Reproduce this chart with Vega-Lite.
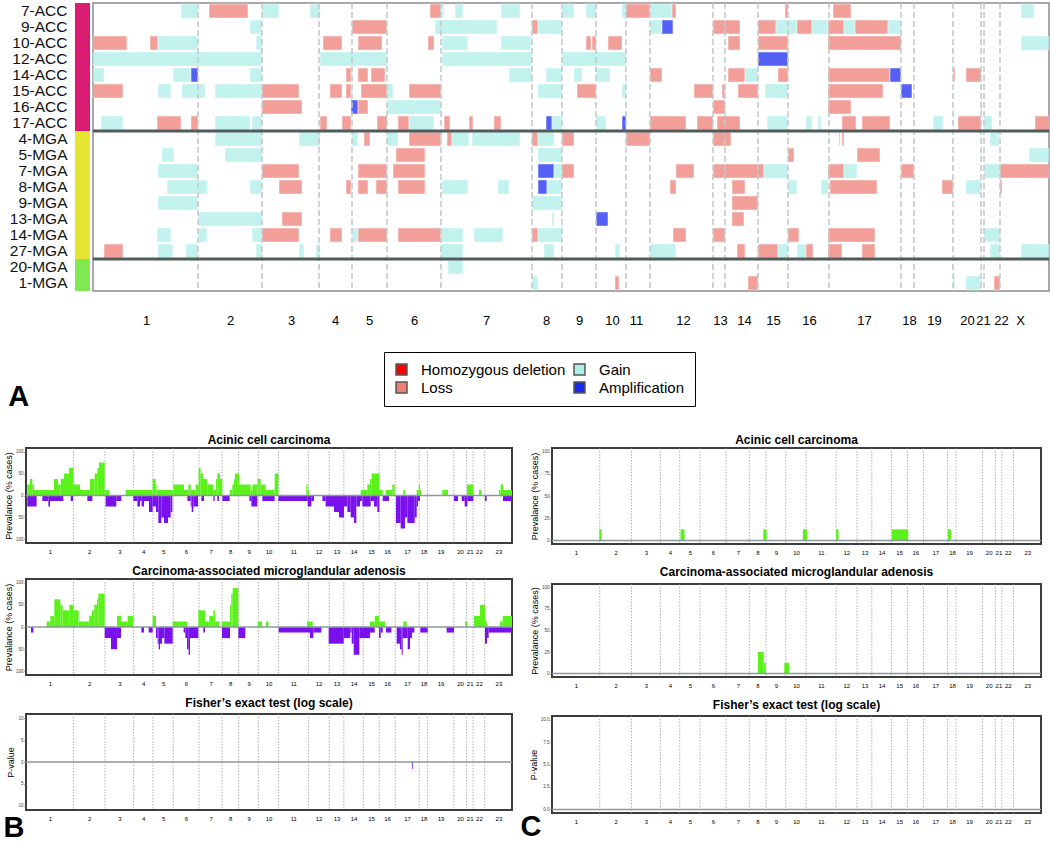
{
"$schema": "https://vega.github.io/schema/vega-lite/v6.json",
"padding": {"left": 2, "top": 1, "right": 2, "bottom": 0},
"background": "white",
"config": {
  "font": "Liberation Sans",
  "view": {"stroke": null},
  "axis": {"grid": false, "labelColor": "#000", "titleColor": "#000"},
  "title": {"font": "Liberation Sans", "color": "#000"}
},
"datasets": {
  "samples": [
    {"s": "7-ACC", "g": "ACC"}, {"s": "9-ACC", "g": "ACC"}, {"s": "10-ACC", "g": "ACC"}, {"s": "12-ACC", "g": "ACC"},
    {"s": "14-ACC", "g": "ACC"}, {"s": "15-ACC", "g": "ACC"}, {"s": "16-ACC", "g": "ACC"}, {"s": "17-ACC", "g": "ACC"},
    {"s": "4-MGA", "g": "MGA"}, {"s": "5-MGA", "g": "MGA"}, {"s": "7-MGA", "g": "MGA"}, {"s": "8-MGA", "g": "MGA"},
    {"s": "9-MGA", "g": "MGA"}, {"s": "13-MGA", "g": "MGA"}, {"s": "14-MGA", "g": "MGA"}, {"s": "27-MGA", "g": "MGA"},
    {"s": "20-MGA", "g": "MGA2"}, {"s": "1-MGA", "g": "MGA2"}
  ],
  "sep": [{"s": "17-ACC"}, {"s": "27-MGA"}],
  "hb": [{"p":105},{"p":169},{"p":226},{"p":259},{"p":294},{"p":348},{"p":439},{"p":469},{"p":503},{"p":533},{"p":557},{"p":620},{"p":632},{"p":665},{"p":695},{"p":736},{"p":808},{"p":821},{"p":860},{"p":888},{"p":891},{"p":907}],
  "cb": [{"p":97.7},{"p":162.5},{"p":221.5},{"p":261.2},{"p":302.9},{"p":355.9},{"p":403.4},{"p":437.6},{"p":478},{"p":519.6},{"p":581.1},{"p":623.9},{"p":654},{"p":694},{"p":726.7},{"p":759.7},{"p":808.9},{"p":826},{"p":880.3},{"p":906.6},{"p":920},{"p":943.9}],
  "zero": [{"z": 0}],
  "seg": [
    {"s":"7-ACC","a":88,"b":105,"t":"Gain"},{"s":"7-ACC","a":116,"b":155,"t":"Loss"},{"s":"7-ACC","a":169,"b":186,"t":"Gain"},{"s":"7-ACC","a":217,"b":227,"t":"Gain"},{"s":"7-ACC","a":337,"b":348,"t":"Loss"},{"s":"7-ACC","a":349,"b":351,"t":"Gain"},{"s":"7-ACC","a":362,"b":370,"t":"Gain"},{"s":"7-ACC","a":408,"b":427,"t":"Gain"},{"s":"7-ACC","a":469,"b":481,"t":"Gain"},{"s":"7-ACC","a":493,"b":503,"t":"Gain"},{"s":"7-ACC","a":529,"b":533,"t":"Gain"},{"s":"7-ACC","a":533,"b":557,"t":"Loss"},{"s":"7-ACC","a":557,"b":579,"t":"Gain"},{"s":"7-ACC","a":579,"b":583,"t":"Loss"},{"s":"7-ACC","a":692,"b":695,"t":"Loss"},{"s":"7-ACC","a":740,"b":758,"t":"Loss"},{"s":"7-ACC","a":928,"b":941,"t":"Gain"},
    {"s":"9-ACC","a":157,"b":169,"t":"Gain"},{"s":"9-ACC","a":259,"b":294,"t":"Loss"},{"s":"9-ACC","a":342,"b":404,"t":"Gain"},{"s":"9-ACC","a":439,"b":445,"t":"Loss"},{"s":"9-ACC","a":445,"b":469,"t":"Gain"},{"s":"9-ACC","a":557,"b":569,"t":"Gain"},{"s":"9-ACC","a":569,"b":580,"t":"Amplification"},{"s":"9-ACC","a":620,"b":647,"t":"Loss"},{"s":"9-ACC","a":665,"b":683,"t":"Loss"},{"s":"9-ACC","a":683,"b":704,"t":"Gain"},{"s":"9-ACC","a":704,"b":719,"t":"Loss"},{"s":"9-ACC","a":719,"b":735,"t":"Gain"},{"s":"9-ACC","a":735,"b":751,"t":"Loss"},{"s":"9-ACC","a":751,"b":762,"t":"Gain"},{"s":"9-ACC","a":762,"b":795,"t":"Loss"},{"s":"9-ACC","a":795,"b":808,"t":"Gain"},
    {"s":"10-ACC","a":0,"b":34,"t":"Loss"},{"s":"10-ACC","a":57,"b":65,"t":"Loss"},{"s":"10-ACC","a":65,"b":105,"t":"Gain"},{"s":"10-ACC","a":163,"b":169,"t":"Gain"},{"s":"10-ACC","a":230,"b":249,"t":"Loss"},{"s":"10-ACC","a":265,"b":289,"t":"Loss"},{"s":"10-ACC","a":335,"b":341,"t":"Loss"},{"s":"10-ACC","a":349,"b":375,"t":"Gain"},{"s":"10-ACC","a":408,"b":438,"t":"Gain"},{"s":"10-ACC","a":493,"b":498,"t":"Loss"},{"s":"10-ACC","a":499,"b":503,"t":"Loss"},{"s":"10-ACC","a":515,"b":529,"t":"Loss"},{"s":"10-ACC","a":635,"b":647,"t":"Loss"},{"s":"10-ACC","a":665,"b":695,"t":"Loss"},{"s":"10-ACC","a":735,"b":808,"t":"Loss"},{"s":"10-ACC","a":888,"b":889,"t":"Gain"},{"s":"10-ACC","a":928,"b":956,"t":"Gain"},
    {"s":"12-ACC","a":0,"b":169,"t":"Gain"},{"s":"12-ACC","a":227,"b":294,"t":"Gain"},{"s":"12-ACC","a":349,"b":439,"t":"Gain"},{"s":"12-ACC","a":469,"b":533,"t":"Gain"},{"s":"12-ACC","a":665,"b":695,"t":"Amplification"},
    {"s":"14-ACC","a":0,"b":11,"t":"Gain"},{"s":"14-ACC","a":80,"b":98,"t":"Gain"},{"s":"14-ACC","a":98,"b":105,"t":"Amplification"},{"s":"14-ACC","a":157,"b":169,"t":"Gain"},{"s":"14-ACC","a":253,"b":258,"t":"Loss"},{"s":"14-ACC","a":265,"b":275,"t":"Loss"},{"s":"14-ACC","a":278,"b":292,"t":"Loss"},{"s":"14-ACC","a":416,"b":439,"t":"Gain"},{"s":"14-ACC","a":453,"b":469,"t":"Gain"},{"s":"14-ACC","a":481,"b":489,"t":"Gain"},{"s":"14-ACC","a":503,"b":517,"t":"Gain"},{"s":"14-ACC","a":557,"b":569,"t":"Loss"},{"s":"14-ACC","a":635,"b":652,"t":"Loss"},{"s":"14-ACC","a":652,"b":665,"t":"Gain"},{"s":"14-ACC","a":685,"b":695,"t":"Loss"},{"s":"14-ACC","a":735,"b":797,"t":"Loss"},{"s":"14-ACC","a":797,"b":808,"t":"Amplification"},{"s":"14-ACC","a":860,"b":862,"t":"Loss"},{"s":"14-ACC","a":873,"b":888,"t":"Loss"},
    {"s":"15-ACC","a":0,"b":30,"t":"Loss"},{"s":"15-ACC","a":65,"b":78,"t":"Gain"},{"s":"15-ACC","a":89,"b":112,"t":"Gain"},{"s":"15-ACC","a":122,"b":169,"t":"Gain"},{"s":"15-ACC","a":169,"b":206,"t":"Loss"},{"s":"15-ACC","a":237,"b":249,"t":"Loss"},{"s":"15-ACC","a":253,"b":258,"t":"Loss"},{"s":"15-ACC","a":268,"b":294,"t":"Loss"},{"s":"15-ACC","a":294,"b":300,"t":"Gain"},{"s":"15-ACC","a":316,"b":348,"t":"Loss"},{"s":"15-ACC","a":445,"b":469,"t":"Gain"},{"s":"15-ACC","a":484,"b":503,"t":"Loss"},{"s":"15-ACC","a":529,"b":533,"t":"Gain"},{"s":"15-ACC","a":601,"b":620,"t":"Loss"},{"s":"15-ACC","a":629,"b":632,"t":"Loss"},{"s":"15-ACC","a":645,"b":665,"t":"Loss"},{"s":"15-ACC","a":672,"b":695,"t":"Gain"},{"s":"15-ACC","a":735,"b":790,"t":"Loss"},{"s":"15-ACC","a":808,"b":819,"t":"Amplification"},
    {"s":"16-ACC","a":169,"b":209,"t":"Loss"},{"s":"16-ACC","a":258,"b":265,"t":"Amplification"},{"s":"16-ACC","a":265,"b":275,"t":"Loss"},{"s":"16-ACC","a":294,"b":348,"t":"Gain"},{"s":"16-ACC","a":620,"b":632,"t":"Loss"},{"s":"16-ACC","a":735,"b":758,"t":"Loss"},{"s":"16-ACC","a":888,"b":889,"t":"Loss"},
    {"s":"17-ACC","a":8,"b":30,"t":"Gain"},{"s":"17-ACC","a":64,"b":88,"t":"Loss"},{"s":"17-ACC","a":98,"b":105,"t":"Loss"},{"s":"17-ACC","a":122,"b":157,"t":"Gain"},{"s":"17-ACC","a":159,"b":169,"t":"Gain"},{"s":"17-ACC","a":227,"b":234,"t":"Loss"},{"s":"17-ACC","a":249,"b":258,"t":"Loss"},{"s":"17-ACC","a":284,"b":294,"t":"Loss"},{"s":"17-ACC","a":305,"b":316,"t":"Loss"},{"s":"17-ACC","a":316,"b":341,"t":"Gain"},{"s":"17-ACC","a":351,"b":357,"t":"Loss"},{"s":"17-ACC","a":376,"b":380,"t":"Loss"},{"s":"17-ACC","a":401,"b":408,"t":"Loss"},{"s":"17-ACC","a":453,"b":459,"t":"Amplification"},{"s":"17-ACC","a":459,"b":469,"t":"Gain"},{"s":"17-ACC","a":503,"b":513,"t":"Gain"},{"s":"17-ACC","a":529,"b":533,"t":"Amplification"},{"s":"17-ACC","a":557,"b":593,"t":"Loss"},{"s":"17-ACC","a":604,"b":620,"t":"Loss"},{"s":"17-ACC","a":624,"b":647,"t":"Loss"},{"s":"17-ACC","a":674,"b":695,"t":"Gain"},{"s":"17-ACC","a":713,"b":719,"t":"Gain"},{"s":"17-ACC","a":725,"b":728,"t":"Gain"},{"s":"17-ACC","a":749,"b":763,"t":"Loss"},{"s":"17-ACC","a":769,"b":797,"t":"Loss"},{"s":"17-ACC","a":840,"b":850,"t":"Gain"},{"s":"17-ACC","a":865,"b":888,"t":"Loss"},{"s":"17-ACC","a":891,"b":899,"t":"Gain"},{"s":"17-ACC","a":942,"b":956,"t":"Loss"},
    {"s":"4-MGA","a":122,"b":169,"t":"Gain"},{"s":"4-MGA","a":206,"b":227,"t":"Gain"},{"s":"4-MGA","a":259,"b":265,"t":"Gain"},{"s":"4-MGA","a":271,"b":277,"t":"Loss"},{"s":"4-MGA","a":294,"b":305,"t":"Gain"},{"s":"4-MGA","a":316,"b":348,"t":"Loss"},{"s":"4-MGA","a":354,"b":359,"t":"Loss"},{"s":"4-MGA","a":359,"b":376,"t":"Gain"},{"s":"4-MGA","a":379,"b":427,"t":"Gain"},{"s":"4-MGA","a":439,"b":445,"t":"Loss"},{"s":"4-MGA","a":445,"b":461,"t":"Gain"},{"s":"4-MGA","a":469,"b":481,"t":"Loss"},{"s":"4-MGA","a":533,"b":557,"t":"Loss"},{"s":"4-MGA","a":620,"b":638,"t":"Loss"},{"s":"4-MGA","a":746,"b":747,"t":"Loss"},{"s":"4-MGA","a":749,"b":751,"t":"Loss"},{"s":"4-MGA","a":897,"b":906,"t":"Gain"},
    {"s":"5-MGA","a":69,"b":81,"t":"Gain"},{"s":"5-MGA","a":132,"b":169,"t":"Gain"},{"s":"5-MGA","a":303,"b":332,"t":"Loss"},{"s":"5-MGA","a":445,"b":469,"t":"Gain"},{"s":"5-MGA","a":695,"b":701,"t":"Loss"},{"s":"5-MGA","a":764,"b":787,"t":"Loss"},{"s":"5-MGA","a":936,"b":956,"t":"Gain"},
    {"s":"7-MGA","a":65,"b":105,"t":"Gain"},{"s":"7-MGA","a":169,"b":206,"t":"Loss"},{"s":"7-MGA","a":265,"b":294,"t":"Loss"},{"s":"7-MGA","a":300,"b":332,"t":"Loss"},{"s":"7-MGA","a":445,"b":461,"t":"Amplification"},{"s":"7-MGA","a":461,"b":469,"t":"Gain"},{"s":"7-MGA","a":469,"b":481,"t":"Loss"},{"s":"7-MGA","a":583,"b":601,"t":"Loss"},{"s":"7-MGA","a":620,"b":671,"t":"Loss"},{"s":"7-MGA","a":671,"b":695,"t":"Gain"},{"s":"7-MGA","a":735,"b":751,"t":"Loss"},{"s":"7-MGA","a":751,"b":764,"t":"Gain"},{"s":"7-MGA","a":808,"b":821,"t":"Loss"},{"s":"7-MGA","a":891,"b":907,"t":"Gain"},{"s":"7-MGA","a":907,"b":956,"t":"Loss"},
    {"s":"8-MGA","a":74,"b":114,"t":"Gain"},{"s":"8-MGA","a":157,"b":169,"t":"Gain"},{"s":"8-MGA","a":186,"b":209,"t":"Loss"},{"s":"8-MGA","a":253,"b":258,"t":"Loss"},{"s":"8-MGA","a":265,"b":275,"t":"Loss"},{"s":"8-MGA","a":283,"b":294,"t":"Loss"},{"s":"8-MGA","a":305,"b":332,"t":"Loss"},{"s":"8-MGA","a":349,"b":375,"t":"Gain"},{"s":"8-MGA","a":405,"b":416,"t":"Gain"},{"s":"8-MGA","a":445,"b":454,"t":"Amplification"},{"s":"8-MGA","a":454,"b":469,"t":"Gain"},{"s":"8-MGA","a":577,"b":583,"t":"Loss"},{"s":"8-MGA","a":639,"b":652,"t":"Loss"},{"s":"8-MGA","a":695,"b":704,"t":"Gain"},{"s":"8-MGA","a":728,"b":735,"t":"Gain"},{"s":"8-MGA","a":737,"b":784,"t":"Loss"},{"s":"8-MGA","a":849,"b":860,"t":"Loss"},{"s":"8-MGA","a":873,"b":888,"t":"Gain"},{"s":"8-MGA","a":907,"b":909,"t":"Loss"},
    {"s":"9-MGA","a":65,"b":105,"t":"Gain"},{"s":"9-MGA","a":439,"b":469,"t":"Gain"},{"s":"9-MGA","a":639,"b":665,"t":"Loss"},
    {"s":"13-MGA","a":105,"b":169,"t":"Gain"},{"s":"13-MGA","a":189,"b":209,"t":"Loss"},{"s":"13-MGA","a":459,"b":461,"t":"Gain"},{"s":"13-MGA","a":503,"b":515,"t":"Amplification"},{"s":"13-MGA","a":639,"b":651,"t":"Loss"},
    {"s":"14-MGA","a":64,"b":78,"t":"Gain"},{"s":"14-MGA","a":105,"b":114,"t":"Gain"},{"s":"14-MGA","a":159,"b":169,"t":"Gain"},{"s":"14-MGA","a":169,"b":206,"t":"Loss"},{"s":"14-MGA","a":237,"b":249,"t":"Loss"},{"s":"14-MGA","a":259,"b":265,"t":"Gain"},{"s":"14-MGA","a":265,"b":294,"t":"Loss"},{"s":"14-MGA","a":305,"b":348,"t":"Loss"},{"s":"14-MGA","a":348,"b":370,"t":"Gain"},{"s":"14-MGA","a":381,"b":410,"t":"Gain"},{"s":"14-MGA","a":439,"b":445,"t":"Loss"},{"s":"14-MGA","a":445,"b":469,"t":"Gain"},{"s":"14-MGA","a":580,"b":593,"t":"Loss"},{"s":"14-MGA","a":620,"b":632,"t":"Loss"},{"s":"14-MGA","a":695,"b":706,"t":"Loss"},{"s":"14-MGA","a":735,"b":782,"t":"Loss"},{"s":"14-MGA","a":891,"b":907,"t":"Gain"},
    {"s":"27-MGA","a":11,"b":30,"t":"Loss"},{"s":"27-MGA","a":65,"b":80,"t":"Gain"},{"s":"27-MGA","a":93,"b":105,"t":"Gain"},{"s":"27-MGA","a":163,"b":169,"t":"Gain"},{"s":"27-MGA","a":206,"b":211,"t":"Gain"},{"s":"27-MGA","a":223,"b":227,"t":"Gain"},{"s":"27-MGA","a":348,"b":370,"t":"Gain"},{"s":"27-MGA","a":451,"b":461,"t":"Gain"},{"s":"27-MGA","a":522,"b":527,"t":"Gain"},{"s":"27-MGA","a":557,"b":583,"t":"Gain"},{"s":"27-MGA","a":644,"b":652,"t":"Loss"},{"s":"27-MGA","a":665,"b":685,"t":"Loss"},{"s":"27-MGA","a":685,"b":695,"t":"Gain"},{"s":"27-MGA","a":704,"b":713,"t":"Gain"},{"s":"27-MGA","a":713,"b":720,"t":"Loss"},{"s":"27-MGA","a":735,"b":749,"t":"Loss"},{"s":"27-MGA","a":769,"b":782,"t":"Loss"},{"s":"27-MGA","a":897,"b":907,"t":"Gain"},{"s":"27-MGA","a":928,"b":956,"t":"Gain"},
    {"s":"20-MGA","a":355,"b":370,"t":"Gain"},
    {"s":"1-MGA","a":439,"b":445,"t":"Gain"},{"s":"1-MGA","a":522,"b":526,"t":"Loss"},{"s":"1-MGA","a":655,"b":665,"t":"Loss"},{"s":"1-MGA","a":860,"b":862,"t":"Gain"},{"s":"1-MGA","a":873,"b":888,"t":"Gain"},{"s":"1-MGA","a":901,"b":907,"t":"Loss"}
  ],
  "accB": [
    {"a":2.7,"b":8.2,"v":25},{"a":8.2,"b":13,"v":37.5},{"a":13,"b":16.5,"v":25},{"a":16.5,"b":57.6,"v":12.5},{"a":57.6,"b":65.8,"v":37.5},{"a":65.8,"b":71.3,"v":25},{"a":71.3,"b":78.2,"v":37.5},{"a":78.2,"b":88.5,"v":50},{"a":88.5,"b":97.4,"v":62.5},
    {"a":97.4,"b":111.1,"v":25},{"a":111.1,"b":131.7,"v":12.5},{"a":131.7,"b":141.3,"v":37.5},{"a":141.3,"b":146.8,"v":50},{"a":146.8,"b":150.2,"v":62.5},{"a":150.2,"b":161.9,"v":75},
    {"a":161.9,"b":171.5,"v":12.5},{"a":205.1,"b":260.6,"v":12.5},
    {"a":260.6,"b":266.8,"v":37.5},{"a":266.8,"b":268.9,"v":25},{"a":268.9,"b":303.2,"v":12.5},
    {"a":303.2,"b":325.1,"v":25},{"a":325.1,"b":334,"v":12.5},{"a":334,"b":338.8,"v":25},{"a":338.8,"b":349.1,"v":12.5},{"a":349.1,"b":355.3,"v":25},
    {"a":355.3,"b":359.4,"v":62.5},{"a":359.4,"b":364.2,"v":50},{"a":364.2,"b":373.1,"v":37.5},{"a":373.1,"b":385.5,"v":25},{"a":385.5,"b":391,"v":12.5},{"a":391,"b":393.7,"v":37.5},{"a":393.7,"b":399.2,"v":50},{"a":399.2,"b":404,"v":37.5},
    {"a":419.1,"b":424.6,"v":12.5},{"a":424.6,"b":428,"v":25},{"a":428,"b":430.1,"v":37.5},{"a":430.1,"b":438.3,"v":50},
    {"a":438.3,"b":462.3,"v":25},{"a":462.3,"b":465.7,"v":12.5},{"a":465.7,"b":476,"v":25},{"a":476,"b":478.1,"v":37.5},
    {"a":478.1,"b":482.9,"v":37.5},{"a":482.9,"b":493.2,"v":25},{"a":493.2,"b":511.7,"v":12.5},{"a":511.7,"b":519.2,"v":50},
    {"a":576.8,"b":579.6,"v":25},{"a":579.6,"b":583,"v":12.5},
    {"a":688.7,"b":702.4,"v":12.5},{"a":702.4,"b":707.9,"v":25},{"a":707.9,"b":711.3,"v":37.5},{"a":711.3,"b":727.1,"v":50},
    {"a":727.1,"b":734,"v":12.5},{"a":740.1,"b":753.8,"v":12.5},{"a":753.8,"b":758.6,"v":25},
    {"a":776.4,"b":780.6,"v":12.5},
    {"a":803.9,"b":808,"v":12.5},{"a":808,"b":810.7,"v":25},{"a":810.7,"b":813.5,"v":12.5},
    {"a":856.7,"b":868.3,"v":12.5},{"a":907.5,"b":920.5,"v":25},{"a":932.1,"b":937.6,"v":12.5},
    {"a":973.3,"b":976.7,"v":12.5},{"a":976.7,"b":981.5,"v":25},{"a":981.5,"b":1000,"v":12.5},
    {"a":2.7,"b":21.9,"v":-25},{"a":33.6,"b":46,"v":-12.5},{"a":46,"b":49.4,"v":-25},{"a":49.4,"b":76.8,"v":-12.5},{"a":91.9,"b":96.7,"v":-12.5},
    {"a":126.2,"b":136.5,"v":-12.5},
    {"a":163.9,"b":185.9,"v":-25},{"a":185.9,"b":196.2,"v":-12.5},
    {"a":220.9,"b":229.1,"v":-12.5},{"a":229.1,"b":234.6,"v":-25},{"a":234.6,"b":238,"v":-12.5},{"a":238,"b":242.8,"v":-25},{"a":242.8,"b":253.1,"v":-12.5},{"a":253.1,"b":260.6,"v":-37.5},
    {"a":260.6,"b":267.5,"v":-25},{"a":267.5,"b":272.3,"v":-37.5},{"a":272.3,"b":278.5,"v":-62.5},{"a":278.5,"b":284,"v":-50},{"a":284,"b":292.2,"v":-62.5},{"a":292.2,"b":297.7,"v":-50},{"a":297.7,"b":301.1,"v":-37.5},
    {"a":332,"b":338.8,"v":-12.5},{"a":338.8,"b":340.9,"v":-25},{"a":340.9,"b":344.3,"v":-37.5},{"a":344.3,"b":353.9,"v":-25},
    {"a":360.8,"b":366.3,"v":-12.5},{"a":385.5,"b":388.2,"v":-12.5},{"a":393.7,"b":397.1,"v":-12.5},
    {"a":404,"b":419.1,"v":-12.5},
    {"a":459.6,"b":463.7,"v":-12.5},{"a":463.7,"b":476,"v":-25},
    {"a":486.3,"b":511.7,"v":-12.5},
    {"a":519.2,"b":579.6,"v":-12.5},{"a":579.6,"b":587.1,"v":-25},{"a":587.1,"b":592.6,"v":-12.5},
    {"a":609.8,"b":616.6,"v":-12.5},{"a":616.6,"b":633.8,"v":-25},{"a":633.8,"b":644,"v":-37.5},{"a":644,"b":654.3,"v":-50},{"a":654.3,"b":661.2,"v":-25},{"a":661.2,"b":668.1,"v":-37.5},{"a":668.1,"b":675,"v":-50},{"a":675,"b":679.7,"v":-62.5},{"a":679.7,"b":687.3,"v":-25},{"a":687.3,"b":692.1,"v":-12.5},
    {"a":692.1,"b":709.2,"v":-25},{"a":709.2,"b":716.1,"v":-12.5},{"a":716.1,"b":722.9,"v":-25},{"a":722.9,"b":727.1,"v":-37.5},
    {"a":734,"b":746.9,"v":-12.5},
    {"a":761.3,"b":770.9,"v":-62.5},{"a":770.9,"b":779.9,"v":-75},{"a":779.9,"b":784.7,"v":-50},{"a":784.7,"b":799.8,"v":-62.5},{"a":799.8,"b":803.9,"v":-50},{"a":803.9,"b":806.6,"v":-25},{"a":806.6,"b":810.7,"v":-12.5},
    {"a":880.7,"b":888.9,"v":-12.5},{"a":896.5,"b":902.6,"v":-12.5},{"a":902.6,"b":908.1,"v":-25},{"a":908.1,"b":920.5,"v":-12.5},
    {"a":944.5,"b":947.9,"v":-12.5},{"a":981.5,"b":1000,"v":-12.5}
  ],
  "mgaB": [
    {"a":42.5,"b":50.1,"v":12.5},{"a":50.1,"b":58.3,"v":25},{"a":58.3,"b":70.6,"v":62.5},{"a":70.6,"b":75.4,"v":50},{"a":75.4,"b":89.2,"v":37.5},{"a":89.2,"b":97.4,"v":50},{"a":97.4,"b":108.4,"v":37.5},{"a":108.4,"b":130.3,"v":12.5},{"a":130.3,"b":135.8,"v":25},{"a":135.8,"b":140.6,"v":37.5},{"a":140.6,"b":146.1,"v":50},{"a":146.1,"b":148.8,"v":62.5},{"a":148.8,"b":161.9,"v":75},
    {"a":187.3,"b":195.5,"v":25},{"a":195.5,"b":209.2,"v":12.5},{"a":209.2,"b":220.2,"v":25},
    {"a":260.6,"b":267.5,"v":25},
    {"a":301.8,"b":331.3,"v":12.5},
    {"a":354.6,"b":368.3,"v":37.5},{"a":368.3,"b":377.2,"v":12.5},{"a":377.2,"b":385.5,"v":25},{"a":385.5,"b":388.9,"v":37.5},{"a":388.9,"b":397.8,"v":12.5},
    {"a":403.3,"b":419.8,"v":12.5},{"a":419.8,"b":422.5,"v":50},{"a":422.5,"b":425.3,"v":75},{"a":425.3,"b":436.9,"v":87.5},
    {"a":476.7,"b":485.6,"v":12.5},{"a":493.8,"b":498.7,"v":12.5},
    {"a":578.2,"b":589.9,"v":12.5},
    {"a":707.9,"b":717.5,"v":12.5},{"a":717.5,"b":726.4,"v":25},{"a":726.4,"b":739.4,"v":12.5},
    {"a":776.4,"b":783.3,"v":12.5},
    {"a":903.3,"b":908.1,"v":12.5},
    {"a":921.9,"b":934.2,"v":25},{"a":934.2,"b":944.5,"v":50},{"a":944.5,"b":948.6,"v":12.5},
    {"a":975.4,"b":980.9,"v":12.5},{"a":980.9,"b":1000,"v":25},
    {"a":10.3,"b":15.1,"v":-12.5},
    {"a":161.9,"b":174.9,"v":-25},{"a":174.9,"b":187.3,"v":-50},{"a":187.3,"b":195.5,"v":-25},
    {"a":237.3,"b":242.8,"v":-12.5},{"a":252.4,"b":260.6,"v":-12.5},
    {"a":267.5,"b":270.9,"v":-25},{"a":270.9,"b":273,"v":-37.5},{"a":273,"b":275.7,"v":-50},{"a":275.7,"b":279.9,"v":-37.5},{"a":279.9,"b":284.7,"v":-25},{"a":284.7,"b":301.8,"v":-37.5},
    {"a":324.4,"b":327.9,"v":-12.5},{"a":327.9,"b":331.3,"v":-25},{"a":331.3,"b":334.7,"v":-50},{"a":334.7,"b":337.5,"v":-62.5},{"a":337.5,"b":354.6,"v":-25},
    {"a":364.9,"b":368.3,"v":-12.5},
    {"a":403.3,"b":419.8,"v":-25},
    {"a":436.9,"b":451.3,"v":-25},
    {"a":519.9,"b":584.4,"v":-12.5},{"a":584.4,"b":591.3,"v":-25},{"a":591.3,"b":607.7,"v":-12.5},
    {"a":622.8,"b":653.7,"v":-37.5},{"a":653.7,"b":667.4,"v":-25},{"a":667.4,"b":670.1,"v":-12.5},{"a":670.1,"b":674.3,"v":-37.5},{"a":674.3,"b":685.9,"v":-62.5},{"a":685.9,"b":707.9,"v":-25},{"a":707.9,"b":717.5,"v":-12.5},
    {"a":726.4,"b":729.8,"v":-25},{"a":729.8,"b":733.9,"v":-12.5},{"a":740.8,"b":751.8,"v":-12.5},
    {"a":762.7,"b":769.6,"v":-37.5},{"a":769.6,"b":773,"v":-50},{"a":773,"b":775.1,"v":-62.5},{"a":775.1,"b":785.4,"v":-25},{"a":785.4,"b":790.2,"v":-50},{"a":790.2,"b":794.3,"v":-25},{"a":794.3,"b":799.1,"v":-12.5},
    {"a":811.4,"b":826.5,"v":-12.5},
    {"a":865.6,"b":880.7,"v":-12.5},
    {"a":944.5,"b":948.6,"v":-37.5},{"a":948.6,"b":952,"v":-25},{"a":952,"b":1000,"v":-12.5}
  ],
  "fishB": [{"a":794,"b":796.5,"v":-1.6}],
  "accC": [
    {"a":96.7,"b":101.6,"v":12.5},{"a":263,"b":271,"v":12.5},{"a":432,"b":439,"v":12.5},{"a":513,"b":521.5,"v":12.5},{"a":581,"b":586,"v":12.5},{"a":695,"b":728.6,"v":12.5},{"a":810,"b":816,"v":12.5}
  ],
  "mgaC": [
    {"a":421,"b":433,"v":25},{"a":433,"b":437,"v":12.5},{"a":475,"b":485,"v":12.5}
  ]
},
"spacing": 20,
"resolve": {"scale": {"x": "independent", "y": "independent", "color": "independent"}, "legend": {"color": "independent"}},
"vconcat": [
  {
    "spacing": 8,
    "resolve": {"scale": {"x": "independent", "y": "independent", "color": "independent"}, "legend": {"color": "independent"}},
    "hconcat": [
      {
        "width": 1, "height": 288,
        "data": {"name": "samples"},
        "title": {"text": "A", "orient": "bottom", "anchor": "start", "frame": "bounds", "fontSize": 29, "fontWeight": "bold", "baseline": "alphabetic", "offset": 115, "dx": -1},
        "mark": {"type": "rect", "opacity": 0},
        "encoding": {
          "y": {"field": "s", "type": "nominal",
                "scale": {"domain": ["7-ACC","9-ACC","10-ACC","12-ACC","14-ACC","15-ACC","16-ACC","17-ACC","4-MGA","5-MGA","7-MGA","8-MGA","9-MGA","13-MGA","14-MGA","27-MGA","20-MGA","1-MGA"], "paddingInner": 0, "paddingOuter": 0},
                "axis": {"orient": "right", "title": null, "ticks": false, "tickSize": 0, "domain": false, "labelFontSize": 15.5, "labelPadding": 40, "labelAlign": "right", "labelColor": "#111"}}
        }
      },
      {
        "spacing": 0,
        "resolve": {"scale": {"x": "independent", "y": "independent", "color": "independent"}, "legend": {"color": "independent"}},
        "hconcat": [
          {
            "width": 15, "height": 288,
            "data": {"name": "samples"},
            "mark": {"type": "rect"},
            "encoding": {
              "y": {"field": "s", "type": "nominal",
                    "scale": {"domain": ["7-ACC","9-ACC","10-ACC","12-ACC","14-ACC","15-ACC","16-ACC","17-ACC","4-MGA","5-MGA","7-MGA","8-MGA","9-MGA","13-MGA","14-MGA","27-MGA","20-MGA","1-MGA"], "paddingInner": 0, "paddingOuter": 0},
                    "axis": null},
              "color": {"field": "g", "type": "nominal", "scale": {"domain": ["ACC","MGA","MGA2"], "range": ["#DA1B72","#E6E632","#80E850"]}, "legend": null}
            }
          },
          {
            "width": 956, "height": 288,
            "view": {"stroke": "#8c8c8c", "strokeWidth": 1.5},
            "layer": [
              {
                "data": {"name": "seg"},
                "mark": {"type": "rect", "opacity": 0.75, "stroke": "white", "strokeWidth": 0.5},
                "encoding": {
                  "x": {"field": "a", "type": "quantitative", "scale": {"domain": [0, 956], "nice": false, "zero": false},
                        "axis": {"values": [53,137,198,242,276,321,393,453,486,519,543,590,627,651,680,716,771,816,841,874,890,908,927],
                                 "labelExpr": "['1','2','3','4','5','6','7','8','9','10','11','12','13','14','15','16','17','18','19','20','21','22','X'][indexof([53,137,198,242,276,321,393,453,486,519,543,590,627,651,680,716,771,816,841,874,890,908,927], datum.value)]",
                                 "ticks": false, "domain": false, "labelFontSize": 13, "labelPadding": 23, "labelOverlap": false, "labelBound": false, "labelFlush": false, "title": null}},
                  "x2": {"field": "b"},
                  "y": {"field": "s", "type": "nominal",
                        "scale": {"domain": ["7-ACC","9-ACC","10-ACC","12-ACC","14-ACC","15-ACC","16-ACC","17-ACC","4-MGA","5-MGA","7-MGA","8-MGA","9-MGA","13-MGA","14-MGA","27-MGA","20-MGA","1-MGA"], "paddingInner": 0.12, "paddingOuter": 0.06},
                        "axis": null},
                  "color": {"field": "t", "type": "nominal",
                            "scale": {"domain": ["Homozygous deletion","Loss","Gain","Amplification"], "range": ["#FF0000","#EE8078","#AEEEE9","#1A2BF0"]},
                            "legend": {"title": null, "orient": "none", "legendX": 291, "legendY": 349, "columns": 2, "strokeColor": "#000", "padding": 10,
                                       "symbolType": "square", "symbolSize": 120, "symbolStrokeColor": "#555", "symbolStrokeWidth": 1.5, "symbolOpacity": 1,
                                       "labelFontSize": 15, "labelOffset": 12, "columnPadding": 5, "rowPadding": 1, "labelColor": "#000", "labelLimit": 300}}
                }
              },
              {
                "data": {"name": "hb"},
                "mark": {"type": "rule", "color": "#c4cbcb", "strokeWidth": 1.6, "strokeDash": [6, 3]},
                "encoding": {"x": {"field": "p", "type": "quantitative",
                        "axis": {"values": [53,137,198,242,276,321,393,453,486,519,543,590,627,651,680,716,771,816,841,874,890,908,927],
                                 "labelExpr": "['1','2','3','4','5','6','7','8','9','10','11','12','13','14','15','16','17','18','19','20','21','22','X'][indexof([53,137,198,242,276,321,393,453,486,519,543,590,627,651,680,716,771,816,841,874,890,908,927], datum.value)]",
                                 "ticks": false, "domain": false, "labelFontSize": 13, "labelPadding": 23, "labelOverlap": false, "labelBound": false, "labelFlush": false, "title": null}}}
              },
              {
                "data": {"name": "sep"},
                "mark": {"type": "rule", "color": "#505c5c", "strokeWidth": 3},
                "encoding": {"y": {"field": "s", "type": "nominal", "bandPosition": 1.068, "axis": null}}
              }
            ]
          }
        ]
      }
    ]
  },
  {
    "spacing": 5,
    "resolve": {"scale": {"x": "independent", "y": "independent", "color": "independent"}},
    "hconcat": [
      {
        "spacing": 8,
        "resolve": {"scale": {"x": "independent", "y": "independent"}},
        "vconcat": [
          {
            "width": 486, "height": 95,
            "title": {"text": "Acinic cell carcinoma", "fontSize": 12, "fontWeight": "bold", "offset": 1},
            "view": {"stroke": "#3c3c3c", "strokeWidth": 2},
            "layer": [
              {"data": {"name": "cb"}, "mark": {"type": "rule", "color": "#9a9a9a", "strokeWidth": 0.8, "strokeDash": [1.5, 1.5]},
               "encoding": {"x": {"field": "p", "type": "quantitative", "scale": {"domain": [0, 1000], "nice": false, "zero": false},
                 "axis": {"values": [49,130,192,241,282,329,380,420,458,499,550,602,639,674,710,743,784,818,853,893,913,932,972], "labelExpr": "'' + (indexof([49,130,192,241,282,329,380,420,458,499,550,602,639,674,710,743,784,818,853,893,913,932,972], datum.value) + 1)", "ticks": false, "domain": false, "labelFontSize": 6, "labelPadding": 5, "title": null, "labelOverlap": false, "labelBound": false, "labelFlush": false}}}},
              {"data": {"name": "accB"}, "mark": {"type": "rect"},
               "encoding": {"x": {"field": "a", "type": "quantitative",
                 "axis": {"values": [49,130,192,241,282,329,380,420,458,499,550,602,639,674,710,743,784,818,853,893,913,932,972], "labelExpr": "'' + (indexof([49,130,192,241,282,329,380,420,458,499,550,602,639,674,710,743,784,818,853,893,913,932,972], datum.value) + 1)", "ticks": false, "domain": false, "labelFontSize": 6, "labelPadding": 5, "title": null, "labelOverlap": false, "labelBound": false, "labelFlush": false}},
                 "x2": {"field": "b"},
                 "y": {"field": "v", "type": "quantitative", "scale": {"domain": [-108, 108], "nice": false, "zero": false},
                   "axis": {"values": [-100,-50,0,50,100], "labelExpr": "'' + abs(datum.value)", "title": "Prevalance (% cases)", "titleFontSize": 9, "titleFontWeight": "normal", "titlePadding": 2, "labelFontSize": 4.5, "tickSize": 2, "tickColor": "#555", "labelPadding": 1, "domain": false, "labelColor": "#444", "labelOverlap": false}},
                 "y2": {"datum": 0},
                 "color": {"condition": {"test": "datum.v > 0", "value": "#5AF21A"}, "value": "#7A10EE"}}},
              {"data": {"name": "zero"}, "mark": {"type": "rule", "color": "#8a9a9a", "strokeWidth": 1.5},
               "encoding": {"y": {"field": "z", "type": "quantitative",
                   "axis": {"values": [-100,-50,0,50,100], "labelExpr": "'' + abs(datum.value)", "title": "Prevalance (% cases)", "titleFontSize": 9, "titleFontWeight": "normal", "titlePadding": 2, "labelFontSize": 4.5, "tickSize": 2, "tickColor": "#555", "labelPadding": 1, "domain": false, "labelColor": "#444", "labelOverlap": false}}}}
            ]
          },
          {
            "width": 486, "height": 96,
            "title": {"text": "Carcinoma-associated microglandular adenosis", "fontSize": 12, "fontWeight": "bold", "offset": 1},
            "view": {"stroke": "#3c3c3c", "strokeWidth": 2},
            "layer": [
              {"data": {"name": "cb"}, "mark": {"type": "rule", "color": "#9a9a9a", "strokeWidth": 0.8, "strokeDash": [1.5, 1.5]},
               "encoding": {"x": {"field": "p", "type": "quantitative", "scale": {"domain": [0, 1000], "nice": false, "zero": false},
                 "axis": {"values": [49,130,192,241,282,329,380,420,458,499,550,602,639,674,710,743,784,818,853,893,913,932,972], "labelExpr": "'' + (indexof([49,130,192,241,282,329,380,420,458,499,550,602,639,674,710,743,784,818,853,893,913,932,972], datum.value) + 1)", "ticks": false, "domain": false, "labelFontSize": 6, "labelPadding": 5, "title": null, "labelOverlap": false, "labelBound": false, "labelFlush": false}}}},
              {"data": {"name": "mgaB"}, "mark": {"type": "rect"},
               "encoding": {"x": {"field": "a", "type": "quantitative",
                 "axis": {"values": [49,130,192,241,282,329,380,420,458,499,550,602,639,674,710,743,784,818,853,893,913,932,972], "labelExpr": "'' + (indexof([49,130,192,241,282,329,380,420,458,499,550,602,639,674,710,743,784,818,853,893,913,932,972], datum.value) + 1)", "ticks": false, "domain": false, "labelFontSize": 6, "labelPadding": 5, "title": null, "labelOverlap": false, "labelBound": false, "labelFlush": false}},
                 "x2": {"field": "b"},
                 "y": {"field": "v", "type": "quantitative", "scale": {"domain": [-108, 108], "nice": false, "zero": false},
                   "axis": {"values": [-100,-50,0,50,100], "labelExpr": "'' + abs(datum.value)", "title": "Prevalance (% cases)", "titleFontSize": 9, "titleFontWeight": "normal", "titlePadding": 2, "labelFontSize": 4.5, "tickSize": 2, "tickColor": "#555", "labelPadding": 1, "domain": false, "labelColor": "#444", "labelOverlap": false}},
                 "y2": {"datum": 0},
                 "color": {"condition": {"test": "datum.v > 0", "value": "#5AF21A"}, "value": "#7A10EE"}}},
              {"data": {"name": "zero"}, "mark": {"type": "rule", "color": "#8a9a9a", "strokeWidth": 1.5},
               "encoding": {"y": {"field": "z", "type": "quantitative",
                   "axis": {"values": [-100,-50,0,50,100], "labelExpr": "'' + abs(datum.value)", "title": "Prevalance (% cases)", "titleFontSize": 9, "titleFontWeight": "normal", "titlePadding": 2, "labelFontSize": 4.5, "tickSize": 2, "tickColor": "#555", "labelPadding": 1, "domain": false, "labelColor": "#444", "labelOverlap": false}}}}
            ]
          },
          {
            "width": 486, "height": 96,
            "title": {"text": "Fisher’s exact test (log scale)", "fontSize": 12, "fontWeight": "bold", "offset": 4},
            "view": {"stroke": "#3c3c3c", "strokeWidth": 2},
            "layer": [
              {"data": {"name": "cb"}, "mark": {"type": "rule", "color": "#9a9a9a", "strokeWidth": 0.8, "strokeDash": [1.5, 1.5]},
               "encoding": {"x": {"field": "p", "type": "quantitative", "scale": {"domain": [0, 1000], "nice": false, "zero": false},
                 "axis": {"values": [49,130,192,241,282,329,380,420,458,499,550,602,639,674,710,743,784,818,853,893,913,932,972], "labelExpr": "'' + (indexof([49,130,192,241,282,329,380,420,458,499,550,602,639,674,710,743,784,818,853,893,913,932,972], datum.value) + 1)", "ticks": false, "domain": false, "labelFontSize": 6, "labelPadding": 5, "labelOverlap": false, "labelBound": false, "labelFlush": false,
                   "title": "B", "titleFontSize": 29, "titleFontWeight": "bold", "titleAlign": "left", "titleBaseline": "alphabetic", "titleX": -23, "titleY": 26}}}},
              {"data": {"name": "fishB"}, "mark": {"type": "rect"},
               "encoding": {"x": {"field": "a", "type": "quantitative",
                 "axis": {"values": [49,130,192,241,282,329,380,420,458,499,550,602,639,674,710,743,784,818,853,893,913,932,972], "labelExpr": "'' + (indexof([49,130,192,241,282,329,380,420,458,499,550,602,639,674,710,743,784,818,853,893,913,932,972], datum.value) + 1)", "ticks": false, "domain": false, "labelFontSize": 6, "labelPadding": 5, "labelOverlap": false, "labelBound": false, "labelFlush": false,
                   "title": "B", "titleFontSize": 29, "titleFontWeight": "bold", "titleAlign": "left", "titleBaseline": "alphabetic", "titleX": -23, "titleY": 26}},
                 "x2": {"field": "b"},
                 "y": {"field": "v", "type": "quantitative", "scale": {"domain": [-11, 11], "nice": false, "zero": false},
                   "axis": {"values": [-10,-5,0,5,10], "labelExpr": "'' + abs(datum.value)", "title": "P-value", "titleFontSize": 9, "titleFontWeight": "normal", "titlePadding": 2, "labelFontSize": 4.5, "tickSize": 2, "tickColor": "#555", "labelPadding": 1, "domain": false, "labelColor": "#444", "labelOverlap": false}},
                 "y2": {"datum": 0},
                 "color": {"value": "#A050F0"}}},
              {"data": {"name": "zero"}, "mark": {"type": "rule", "color": "#8a9a9a", "strokeWidth": 1.5},
               "encoding": {"y": {"field": "z", "type": "quantitative",
                   "axis": {"values": [-10,-5,0,5,10], "labelExpr": "'' + abs(datum.value)", "title": "P-value", "titleFontSize": 9, "titleFontWeight": "normal", "titlePadding": 2, "labelFontSize": 4.5, "tickSize": 2, "tickColor": "#555", "labelPadding": 1, "domain": false, "labelColor": "#444", "labelOverlap": false}}}}
            ]
          }
        ]
      },
      {
        "spacing": 8,
        "resolve": {"scale": {"x": "independent", "y": "independent"}},
        "vconcat": [
          {
            "width": 489, "height": 96,
            "title": {"text": "Acinic cell carcinoma", "fontSize": 12, "fontWeight": "bold", "offset": 1},
            "view": {"stroke": "#3c3c3c", "strokeWidth": 2},
            "layer": [
              {"data": {"name": "cb"}, "mark": {"type": "rule", "color": "#9a9a9a", "strokeWidth": 0.8, "strokeDash": [1.5, 1.5]},
               "encoding": {"x": {"field": "p", "type": "quantitative", "scale": {"domain": [0, 1000], "nice": false, "zero": false},
                 "axis": {"values": [49,130,192,241,282,329,380,420,458,499,550,602,639,674,710,743,784,818,853,893,913,932,972], "labelExpr": "'' + (indexof([49,130,192,241,282,329,380,420,458,499,550,602,639,674,710,743,784,818,853,893,913,932,972], datum.value) + 1)", "ticks": false, "domain": false, "labelFontSize": 6, "labelPadding": 5, "title": null, "labelOverlap": false, "labelBound": false, "labelFlush": false}}}},
              {"data": {"name": "accC"}, "mark": {"type": "rect"},
               "encoding": {"x": {"field": "a", "type": "quantitative",
                 "axis": {"values": [49,130,192,241,282,329,380,420,458,499,550,602,639,674,710,743,784,818,853,893,913,932,972], "labelExpr": "'' + (indexof([49,130,192,241,282,329,380,420,458,499,550,602,639,674,710,743,784,818,853,893,913,932,972], datum.value) + 1)", "ticks": false, "domain": false, "labelFontSize": 6, "labelPadding": 5, "title": null, "labelOverlap": false, "labelBound": false, "labelFlush": false}},
                 "x2": {"field": "b"},
                 "y": {"field": "v", "type": "quantitative", "scale": {"domain": [-4, 104], "nice": false, "zero": false},
                   "axis": {"values": [0,25,50,75,100], "title": "Prevalance (% cases)", "titleFontSize": 9, "titleFontWeight": "normal", "titlePadding": 2, "labelFontSize": 4.5, "tickSize": 2, "tickColor": "#555", "labelPadding": 1, "domain": false, "labelColor": "#444", "labelOverlap": false}},
                 "y2": {"datum": 0},
                 "color": {"value": "#5AF21A"}}},
              {"data": {"name": "zero"}, "mark": {"type": "rule", "color": "#8a9a9a", "strokeWidth": 1.5},
               "encoding": {"y": {"field": "z", "type": "quantitative",
                   "axis": {"values": [0,25,50,75,100], "title": "Prevalance (% cases)", "titleFontSize": 9, "titleFontWeight": "normal", "titlePadding": 2, "labelFontSize": 4.5, "tickSize": 2, "tickColor": "#555", "labelPadding": 1, "domain": false, "labelColor": "#444", "labelOverlap": false}}}}
            ]
          },
          {
            "width": 489, "height": 93,
            "title": {"text": "Carcinoma-associated microglandular adenosis", "fontSize": 12, "fontWeight": "bold", "offset": 5},
            "view": {"stroke": "#3c3c3c", "strokeWidth": 2},
            "layer": [
              {"data": {"name": "cb"}, "mark": {"type": "rule", "color": "#9a9a9a", "strokeWidth": 0.8, "strokeDash": [1.5, 1.5]},
               "encoding": {"x": {"field": "p", "type": "quantitative", "scale": {"domain": [0, 1000], "nice": false, "zero": false},
                 "axis": {"values": [49,130,192,241,282,329,380,420,458,499,550,602,639,674,710,743,784,818,853,893,913,932,972], "labelExpr": "'' + (indexof([49,130,192,241,282,329,380,420,458,499,550,602,639,674,710,743,784,818,853,893,913,932,972], datum.value) + 1)", "ticks": false, "domain": false, "labelFontSize": 6, "labelPadding": 5, "title": null, "labelOverlap": false, "labelBound": false, "labelFlush": false}}}},
              {"data": {"name": "mgaC"}, "mark": {"type": "rect"},
               "encoding": {"x": {"field": "a", "type": "quantitative",
                 "axis": {"values": [49,130,192,241,282,329,380,420,458,499,550,602,639,674,710,743,784,818,853,893,913,932,972], "labelExpr": "'' + (indexof([49,130,192,241,282,329,380,420,458,499,550,602,639,674,710,743,784,818,853,893,913,932,972], datum.value) + 1)", "ticks": false, "domain": false, "labelFontSize": 6, "labelPadding": 5, "title": null, "labelOverlap": false, "labelBound": false, "labelFlush": false}},
                 "x2": {"field": "b"},
                 "y": {"field": "v", "type": "quantitative", "scale": {"domain": [-4, 104], "nice": false, "zero": false},
                   "axis": {"values": [0,25,50,75,100], "title": "Prevalance (% cases)", "titleFontSize": 9, "titleFontWeight": "normal", "titlePadding": 2, "labelFontSize": 4.5, "tickSize": 2, "tickColor": "#555", "labelPadding": 1, "domain": false, "labelColor": "#444", "labelOverlap": false}},
                 "y2": {"datum": 0},
                 "color": {"value": "#5AF21A"}}},
              {"data": {"name": "zero"}, "mark": {"type": "rule", "color": "#8a9a9a", "strokeWidth": 1.5},
               "encoding": {"y": {"field": "z", "type": "quantitative",
                   "axis": {"values": [0,25,50,75,100], "title": "Prevalance (% cases)", "titleFontSize": 9, "titleFontWeight": "normal", "titlePadding": 2, "labelFontSize": 4.5, "tickSize": 2, "tickColor": "#555", "labelPadding": 1, "domain": false, "labelColor": "#444", "labelOverlap": false}}}}
            ]
          },
          {
            "width": 489, "height": 97,
            "title": {"text": "Fisher’s exact test (log scale)", "fontSize": 12, "fontWeight": "bold", "offset": 4},
            "view": {"stroke": "#3c3c3c", "strokeWidth": 2},
            "layer": [
              {"data": {"name": "cb"}, "mark": {"type": "rule", "color": "#9a9a9a", "strokeWidth": 0.8, "strokeDash": [1.5, 1.5]},
               "encoding": {"x": {"field": "p", "type": "quantitative", "scale": {"domain": [0, 1000], "nice": false, "zero": false},
                 "axis": {"values": [49,130,192,241,282,329,380,420,458,499,550,602,639,674,710,743,784,818,853,893,913,932,972], "labelExpr": "'' + (indexof([49,130,192,241,282,329,380,420,458,499,550,602,639,674,710,743,784,818,853,893,913,932,972], datum.value) + 1)", "ticks": false, "domain": false, "labelFontSize": 6, "labelPadding": 5, "labelOverlap": false, "labelBound": false, "labelFlush": false,
                   "title": "C", "titleFontSize": 29, "titleFontWeight": "bold", "titleAlign": "left", "titleBaseline": "alphabetic", "titleX": -32, "titleY": 22}}}},
              {"data": {"name": "zero"}, "mark": {"type": "rule", "color": "#8a9a9a", "strokeWidth": 1.5},
               "encoding": {"y": {"field": "z", "type": "quantitative", "scale": {"domain": [-0.4, 10.4], "nice": false, "zero": false},
                 "axis": {"values": [0,2.5,5,7.5,10], "format": ".1f", "title": "P-value", "titleFontSize": 9, "titleFontWeight": "normal", "titlePadding": 2, "labelFontSize": 4.5, "tickSize": 2, "tickColor": "#555", "labelPadding": 1, "domain": false, "labelColor": "#444", "labelOverlap": false}}}}
            ]
          }
        ]
      }
    ]
  }
]
}
